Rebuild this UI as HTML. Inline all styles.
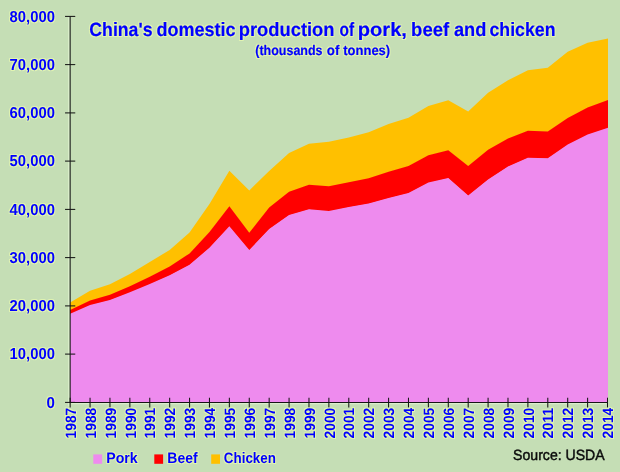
<!DOCTYPE html>
<html lang="en"><head><meta charset="utf-8"><title>China's domestic production of pork, beef and chicken</title>
<style>
html,body{margin:0;padding:0;background:#c5deb5;}
body{width:620px;height:472px;overflow:hidden;}
svg{display:block;}
text{font-family:"Liberation Sans",sans-serif;text-rendering:geometricPrecision;}
.b{font-weight:bold;fill:#0000ff;}
.k{stroke:#0000ff;stroke-width:.2px;stroke-linejoin:round;}
.s{fill:#0c0c0c;stroke:#0c0c0c;stroke-width:.45px;}
</style></head><body>
<svg width="620" height="472" viewBox="0 0 620 472">
<defs>
<filter id="halo" filterUnits="userSpaceOnUse" x="0" y="0" width="620" height="472" color-interpolation-filters="sRGB">
<feMorphology in="SourceAlpha" operator="dilate" radius="0.9" result="d"/>
<feGaussianBlur in="d" stdDeviation="0.7" result="g"/>
<feFlood flood-color="#f0ffb0" flood-opacity="0.65"/>
<feComposite in2="g" operator="in" result="h"/>
<feMerge><feMergeNode in="h"/><feMergeNode in="SourceGraphic"/></feMerge>
</filter>
</defs>
<rect width="620" height="472" fill="#c5deb5"/>
<g id="areas">
<polygon fill="#ffc000" points="70.15,302.45 90.05,290.78 109.95,284.19 129.86,274.08 149.76,261.95 169.66,250.00 189.56,232.51 209.46,204.01 229.36,170.86 249.27,190.40 269.17,171.08 289.07,153.11 308.97,143.73 328.87,141.85 348.78,137.60 368.68,132.16 388.58,123.95 408.48,117.67 428.38,105.98 448.29,100.25 468.19,111.44 488.09,92.75 507.99,80.23 527.89,70.14 547.79,67.77 567.70,51.78 587.60,42.86 608.00,38.59 608.00,100.71 587.60,108.01 567.70,118.48 547.79,132.06 527.89,131.29 507.99,139.21 488.09,150.47 468.19,166.52 448.29,150.79 428.38,155.80 408.48,166.51 388.58,172.31 368.68,178.88 348.78,182.97 328.87,186.88 308.97,185.34 289.07,192.46 269.17,208.21 249.27,233.46 229.36,206.92 209.46,232.59 189.56,254.00 169.66,267.15 149.76,277.27 129.86,286.89 109.95,295.40 90.05,301.03 70.15,310.64"/>
<polygon fill="#ff0000" points="70.15,310.04 90.05,300.43 109.95,294.80 129.86,286.29 149.76,276.67 169.66,266.55 189.56,253.40 209.46,231.99 229.36,206.32 249.27,232.86 269.17,207.61 289.07,191.86 308.97,184.74 328.87,186.28 348.78,182.37 368.68,178.28 388.58,171.71 408.48,165.91 428.38,155.20 448.29,150.19 468.19,165.92 488.09,149.87 507.99,138.61 527.89,130.69 547.79,131.46 567.70,117.88 587.60,107.41 608.00,100.11 608.00,128.46 587.60,135.21 567.70,145.21 547.79,158.84 527.89,158.31 507.99,167.02 488.09,180.06 468.19,196.11 448.29,178.61 428.38,183.21 408.48,193.55 388.58,198.49 368.68,204.06 348.78,207.51 328.87,211.64 308.97,209.73 289.07,215.61 269.17,229.48 249.27,250.63 229.36,226.96 209.46,248.37 189.56,265.28 169.66,275.85 149.76,284.68 129.86,292.95 109.95,300.57 90.05,305.65 70.15,314.47"/>
<polygon fill="#ee8bee" points="70.15,313.87 90.05,305.05 109.95,299.97 129.86,292.35 149.76,284.08 169.66,275.25 189.56,264.68 209.46,247.77 229.36,226.36 249.27,250.03 269.17,228.88 289.07,215.01 308.97,209.13 328.87,211.04 348.78,206.91 368.68,203.46 388.58,197.89 408.48,192.95 428.38,182.61 448.29,178.01 468.19,195.51 488.09,179.46 507.99,166.42 527.89,157.71 547.79,158.24 567.70,144.61 587.60,134.61 608.00,127.86 608.00,402.40 70.15,402.40"/>
</g>
<g stroke="#e6f7d8" stroke-opacity=".8" stroke-width="1" fill="none">
<line x1="68.75" y1="17.4" x2="68.75" y2="406.4"/>
<line x1="71.15" y1="403.7" x2="606.5" y2="403.7"/>
</g>
<g stroke="#161616" stroke-width="1.05" fill="none">
<line x1="70.15" y1="16.4" x2="70.15" y2="402.4"/>
<line x1="70.15" y1="402.4" x2="607.5" y2="402.4"/>

<line x1="65.05" y1="402.4" x2="75.25" y2="402.4"/>
<line x1="65.05" y1="354.1" x2="75.25" y2="354.1"/>
<line x1="65.05" y1="305.9" x2="75.25" y2="305.9"/>
<line x1="65.05" y1="257.6" x2="75.25" y2="257.6"/>
<line x1="65.05" y1="209.4" x2="75.25" y2="209.4"/>
<line x1="65.05" y1="161.1" x2="75.25" y2="161.1"/>
<line x1="65.05" y1="112.9" x2="75.25" y2="112.9"/>
<line x1="65.05" y1="64.6" x2="75.25" y2="64.6"/>
<line x1="65.05" y1="16.4" x2="75.25" y2="16.4"/>
<line x1="70.15" y1="397.7" x2="70.15" y2="407.4"/>
<line x1="90.05" y1="397.7" x2="90.05" y2="407.4"/>
<line x1="109.95" y1="397.7" x2="109.95" y2="407.4"/>
<line x1="129.86" y1="397.7" x2="129.86" y2="407.4"/>
<line x1="149.76" y1="397.7" x2="149.76" y2="407.4"/>
<line x1="169.66" y1="397.7" x2="169.66" y2="407.4"/>
<line x1="189.56" y1="397.7" x2="189.56" y2="407.4"/>
<line x1="209.46" y1="397.7" x2="209.46" y2="407.4"/>
<line x1="229.36" y1="397.7" x2="229.36" y2="407.4"/>
<line x1="249.27" y1="397.7" x2="249.27" y2="407.4"/>
<line x1="269.17" y1="397.7" x2="269.17" y2="407.4"/>
<line x1="289.07" y1="397.7" x2="289.07" y2="407.4"/>
<line x1="308.97" y1="397.7" x2="308.97" y2="407.4"/>
<line x1="328.87" y1="397.7" x2="328.87" y2="407.4"/>
<line x1="348.78" y1="397.7" x2="348.78" y2="407.4"/>
<line x1="368.68" y1="397.7" x2="368.68" y2="407.4"/>
<line x1="388.58" y1="397.7" x2="388.58" y2="407.4"/>
<line x1="408.48" y1="397.7" x2="408.48" y2="407.4"/>
<line x1="428.38" y1="397.7" x2="428.38" y2="407.4"/>
<line x1="448.29" y1="397.7" x2="448.29" y2="407.4"/>
<line x1="468.19" y1="397.7" x2="468.19" y2="407.4"/>
<line x1="488.09" y1="397.7" x2="488.09" y2="407.4"/>
<line x1="507.99" y1="397.7" x2="507.99" y2="407.4"/>
<line x1="527.89" y1="397.7" x2="527.89" y2="407.4"/>
<line x1="547.79" y1="397.7" x2="547.79" y2="407.4"/>
<line x1="567.70" y1="397.7" x2="567.70" y2="407.4"/>
<line x1="587.60" y1="397.7" x2="587.60" y2="407.4"/>
<line x1="607.50" y1="397.7" x2="607.50" y2="407.4"/>
</g>
<g id="ylabels" filter="url(#halo)">
<text class="b" x="54.9" y="407.65" font-size="15.9" text-anchor="end" textLength="8.4" lengthAdjust="spacingAndGlyphs">0</text>
<text class="b" x="54.9" y="359.40" font-size="15.9" text-anchor="end" textLength="45.3" lengthAdjust="spacingAndGlyphs">10,000</text>
<text class="b" x="54.9" y="311.15" font-size="15.9" text-anchor="end" textLength="45.3" lengthAdjust="spacingAndGlyphs">20,000</text>
<text class="b" x="54.9" y="262.90" font-size="15.9" text-anchor="end" textLength="45.3" lengthAdjust="spacingAndGlyphs">30,000</text>
<text class="b" x="54.9" y="214.65" font-size="15.9" text-anchor="end" textLength="45.3" lengthAdjust="spacingAndGlyphs">40,000</text>
<text class="b" x="54.9" y="166.40" font-size="15.9" text-anchor="end" textLength="45.3" lengthAdjust="spacingAndGlyphs">50,000</text>
<text class="b" x="54.9" y="118.15" font-size="15.9" text-anchor="end" textLength="45.3" lengthAdjust="spacingAndGlyphs">60,000</text>
<text class="b" x="54.9" y="69.90" font-size="15.9" text-anchor="end" textLength="45.3" lengthAdjust="spacingAndGlyphs">70,000</text>
<text class="b" x="54.9" y="21.65" font-size="15.9" text-anchor="end" textLength="45.3" lengthAdjust="spacingAndGlyphs">80,000</text>
</g>
<g id="xlabels" filter="url(#halo)">
<text class="b" transform="translate(75.8,438.4) rotate(-90)" font-size="15" textLength="30.6" lengthAdjust="spacingAndGlyphs">1987</text>
<text class="b" transform="translate(95.7,438.4) rotate(-90)" font-size="15" textLength="30.6" lengthAdjust="spacingAndGlyphs">1988</text>
<text class="b" transform="translate(115.6,438.4) rotate(-90)" font-size="15" textLength="30.6" lengthAdjust="spacingAndGlyphs">1989</text>
<text class="b" transform="translate(135.5,438.4) rotate(-90)" font-size="15" textLength="30.6" lengthAdjust="spacingAndGlyphs">1990</text>
<text class="b" transform="translate(155.4,438.4) rotate(-90)" font-size="15" textLength="30.6" lengthAdjust="spacingAndGlyphs">1991</text>
<text class="b" transform="translate(175.3,438.4) rotate(-90)" font-size="15" textLength="30.6" lengthAdjust="spacingAndGlyphs">1992</text>
<text class="b" transform="translate(195.2,438.4) rotate(-90)" font-size="15" textLength="30.6" lengthAdjust="spacingAndGlyphs">1993</text>
<text class="b" transform="translate(215.1,438.4) rotate(-90)" font-size="15" textLength="30.6" lengthAdjust="spacingAndGlyphs">1994</text>
<text class="b" transform="translate(235.0,438.4) rotate(-90)" font-size="15" textLength="30.6" lengthAdjust="spacingAndGlyphs">1995</text>
<text class="b" transform="translate(254.9,438.4) rotate(-90)" font-size="15" textLength="30.6" lengthAdjust="spacingAndGlyphs">1996</text>
<text class="b" transform="translate(274.8,438.4) rotate(-90)" font-size="15" textLength="30.6" lengthAdjust="spacingAndGlyphs">1997</text>
<text class="b" transform="translate(294.7,438.4) rotate(-90)" font-size="15" textLength="30.6" lengthAdjust="spacingAndGlyphs">1998</text>
<text class="b" transform="translate(314.6,438.4) rotate(-90)" font-size="15" textLength="30.6" lengthAdjust="spacingAndGlyphs">1999</text>
<text class="b" transform="translate(334.5,438.4) rotate(-90)" font-size="15" textLength="30.6" lengthAdjust="spacingAndGlyphs">2000</text>
<text class="b" transform="translate(354.4,438.4) rotate(-90)" font-size="15" textLength="30.6" lengthAdjust="spacingAndGlyphs">2001</text>
<text class="b" transform="translate(374.3,438.4) rotate(-90)" font-size="15" textLength="30.6" lengthAdjust="spacingAndGlyphs">2002</text>
<text class="b" transform="translate(394.2,438.4) rotate(-90)" font-size="15" textLength="30.6" lengthAdjust="spacingAndGlyphs">2003</text>
<text class="b" transform="translate(414.1,438.4) rotate(-90)" font-size="15" textLength="30.6" lengthAdjust="spacingAndGlyphs">2004</text>
<text class="b" transform="translate(434.0,438.4) rotate(-90)" font-size="15" textLength="30.6" lengthAdjust="spacingAndGlyphs">2005</text>
<text class="b" transform="translate(453.9,438.4) rotate(-90)" font-size="15" textLength="30.6" lengthAdjust="spacingAndGlyphs">2006</text>
<text class="b" transform="translate(473.8,438.4) rotate(-90)" font-size="15" textLength="30.6" lengthAdjust="spacingAndGlyphs">2007</text>
<text class="b" transform="translate(493.7,438.4) rotate(-90)" font-size="15" textLength="30.6" lengthAdjust="spacingAndGlyphs">2008</text>
<text class="b" transform="translate(513.6,438.4) rotate(-90)" font-size="15" textLength="30.6" lengthAdjust="spacingAndGlyphs">2009</text>
<text class="b" transform="translate(533.5,438.4) rotate(-90)" font-size="15" textLength="30.6" lengthAdjust="spacingAndGlyphs">2010</text>
<text class="b" transform="translate(553.4,438.4) rotate(-90)" font-size="15" textLength="30.6" lengthAdjust="spacingAndGlyphs">2011</text>
<text class="b" transform="translate(573.3,438.4) rotate(-90)" font-size="15" textLength="30.6" lengthAdjust="spacingAndGlyphs">2012</text>
<text class="b" transform="translate(593.2,438.4) rotate(-90)" font-size="15" textLength="30.6" lengthAdjust="spacingAndGlyphs">2013</text>
<text class="b" transform="translate(613.1,438.4) rotate(-90)" font-size="15" textLength="30.6" lengthAdjust="spacingAndGlyphs">2014</text>
</g>
<g id="title" filter="url(#halo)">
<text class="b k" y="35.7" font-size="19.3"><tspan x="89.31" textLength="63.19" lengthAdjust="spacingAndGlyphs">China's</tspan> <tspan x="156.54" textLength="79.06" lengthAdjust="spacingAndGlyphs">domestic</tspan> <tspan x="238.78" textLength="95.74" lengthAdjust="spacingAndGlyphs">production</tspan> <tspan x="339.47" textLength="14.63" lengthAdjust="spacingAndGlyphs">of</tspan> <tspan x="357.78" textLength="49.17" lengthAdjust="spacingAndGlyphs">pork,</tspan> <tspan x="411.12" textLength="37.96" lengthAdjust="spacingAndGlyphs">beef</tspan> <tspan x="453.98" textLength="32.37" lengthAdjust="spacingAndGlyphs">and</tspan> <tspan x="489.54" textLength="65.91" lengthAdjust="spacingAndGlyphs">chicken</tspan></text>
<text class="b k" y="54.6" font-size="13.9"><tspan x="255.27" textLength="67.31" lengthAdjust="spacingAndGlyphs">(thousands</tspan> <tspan x="326.79" textLength="12.58" lengthAdjust="spacingAndGlyphs">of</tspan> <tspan x="343.27" textLength="46.92" lengthAdjust="spacingAndGlyphs">tonnes)</tspan></text>
</g>
<g id="legend-swatches">
<rect x="93.3" y="454.4" width="8.8" height="9.4" fill="#ee8bee"/>
<rect x="154.3" y="454.4" width="8.8" height="9.4" fill="#ff0000"/>
<rect x="211.2" y="454.4" width="8.8" height="9.4" fill="#ffc000"/>
</g>
<g id="legend-labels" filter="url(#halo)">
<text class="b" x="106.2" y="463.1" font-size="15.1" textLength="31.5" lengthAdjust="spacingAndGlyphs">Pork</text>
<text class="b" x="167.3" y="463.1" font-size="15.1" textLength="30.3" lengthAdjust="spacingAndGlyphs">Beef</text>
<text class="b" x="223.8" y="463.1" font-size="15.1" textLength="52.2" lengthAdjust="spacingAndGlyphs">Chicken</text>
</g>
<text class="s" x="513.1" y="460.2" font-size="14.9" textLength="91.6" lengthAdjust="spacingAndGlyphs">Source: USDA</text>
</svg>
</body></html>
